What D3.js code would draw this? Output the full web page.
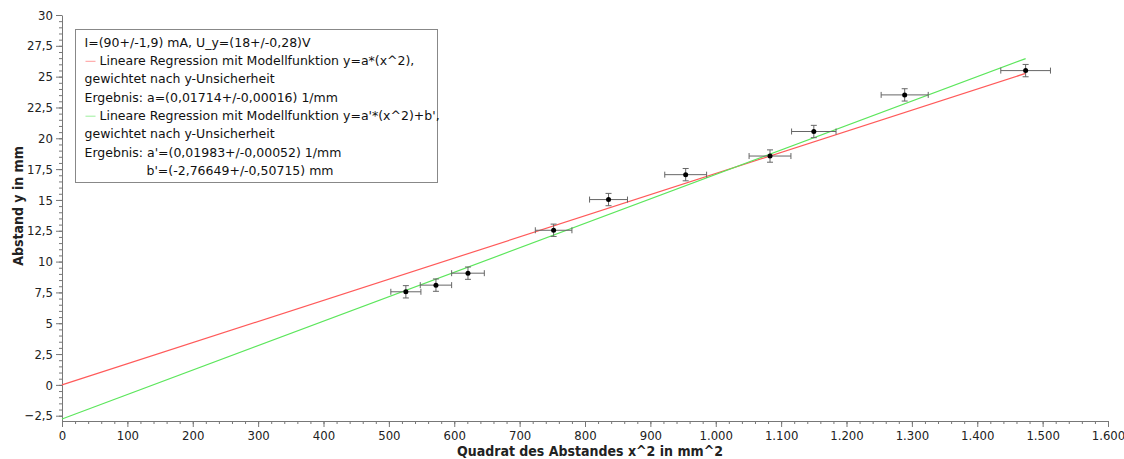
<!DOCTYPE html>
<html lang="de"><head><meta charset="UTF-8">
<title>Abstand y gegen x^2</title>
<script src="https://d3js.org/d3.v7.min.js"></script>
<style type="text/css">
  body { margin: 0; background: #fff; }
  text { font-family: "DejaVu Sans Condensed", "DejaVu Sans", sans-serif; fill: #222; }
  .legend text { font-family: "DejaVu Sans", sans-serif; fill: #111; }
</style>
</head>
<body>
<script type="text/javascript">

var xVals = [526, 572, 621, 752, 836, 954, 1083, 1150, 1289, 1474];
var yVals = [7.55, 8.09, 9.06, 12.54, 15.03, 17.05, 18.56, 20.55, 23.52, 25.49];
var xErr  = [23, 24, 25, 28, 29, 32, 32, 34, 36, 38];
var yErr  = [0.5, 0.5, 0.5, 0.5, 0.5, 0.5, 0.5, 0.5, 0.5, 0.5];

// Fitparameter
var fitA  = 0.01714;          // y = a*x^2
var fitA2 = 0.01983;          // y = a'*x^2 + b'
var fitB2 = -2.76649;

var xTicks = [0, 100, 200, 300, 400, 500, 600, 700, 800, 900, 1000, 1100, 1200, 1300, 1400, 1500, 1600];
var yTicks = [-2.5, 0, 2.5, 5, 7.5, 10, 12.5, 15, 17.5, 20, 22.5, 25, 27.5, 30];

var legendLines = [
  {text: "I=(90+/-1,9) mA, U_y=(18+/-0,28)V", dx: 0},
  {text: "Lineare Regression mit Modellfunktion y=a*(x^2),", dx: 15, swatch: "#ff5a5a"},
  {text: "gewichtet nach y-Unsicherheit", dx: 0},
  {text: "Ergebnis: a=(0,01714+/-0,00016) 1/mm", dx: 0},
  {text: "Lineare Regression mit Modellfunktion y=a'*(x^2)+b',", dx: 15, swatch: "#5ce65c"},
  {text: "gewichtet nach y-Unsicherheit", dx: 0},
  {text: "Ergebnis: a'=(0,01983+/-0,00052) 1/mm", dx: 0},
  {text: "b'=(-2,76649+/-0,50715) mm", dx: 62}
];

var w = 1124, h = 459;
var de = d3.formatLocale({decimal: ",", thousands: ".", grouping: [3], currency: ["", " €"]});

var x = d3.scaleLinear().domain([0, 1600]).range([62, 1108]);
var y = d3.scaleLinear().domain([-2.93, 30]).range([421, 15]);

var svg = d3.select("body").append("svg")
  .attr("width", w).attr("height", h);

// Achsen
var xMinor = d3.range(0, 1601, 20);
var yMinor = d3.range(-2.5, 30.01, 0.5);

svg.append("g")
  .attr("transform", "translate(0," + y.range()[0] + ")")
  .call(d3.axisBottom(x).tickValues(xMinor).tickSize(3).tickFormat(""))
  .call(function(g) { g.select(".domain").remove(); g.selectAll("line").attr("stroke", "#777"); });
var xAxis = svg.append("g")
  .attr("transform", "translate(0," + y.range()[0] + ")")
  .call(d3.axisBottom(x).tickValues(xTicks).tickSize(6).tickSizeOuter(0).tickPadding(4)
    .tickFormat(function(d) { return de.format(",")(d); }));

svg.append("g")
  .attr("transform", "translate(" + x.range()[0] + ",0)")
  .call(d3.axisLeft(y).tickValues(yMinor).tickSize(3).tickFormat(""))
  .call(function(g) { g.select(".domain").remove(); g.selectAll("line").attr("stroke", "#777"); });
var yAxis = svg.append("g")
  .attr("transform", "translate(" + x.range()[0] + ",0)")
  .call(d3.axisLeft(y).tickValues(yTicks).tickSize(6).tickSizeOuter(0).tickPadding(3)
    .tickFormat(function(d) { return de.format("")(d); }));

[xAxis, yAxis].forEach(function(g) {
  g.select(".domain").attr("stroke", "#777");
  g.selectAll(".tick line").attr("stroke", "#777");
  g.selectAll(".tick text").style("font-size", "13px").attr("fill", "#222");
});

// Achsentitel
svg.append("text")
  .attr("x", 590).attr("y", 456)
  .attr("text-anchor", "middle")
  .style("font-size", "14px").style("font-weight", "bold")
  .text("Quadrat des Abstandes x^2 in mm^2");
svg.append("text")
  .attr("transform", "translate(23,206) rotate(-90)")
  .attr("text-anchor", "middle")
  .style("font-size", "14px").style("font-weight", "bold")
  .text("Abstand y in mm");

// Regressionsgeraden
var xMax = d3.max(xVals);
svg.append("line")
  .attr("x1", x(0)).attr("y1", y(0))
  .attr("x2", x(xMax)).attr("y2", y(fitA * xMax))
  .attr("stroke", "#ff5a5a").attr("stroke-width", 1.2);
svg.append("line")
  .attr("x1", x(0)).attr("y1", y(fitB2))
  .attr("x2", x(xMax)).attr("y2", y(fitA2 * xMax + fitB2))
  .attr("stroke", "#5ce65c").attr("stroke-width", 1.2);

// Messpunkte mit Fehlerbalken
var pts = xVals.map(function(v, i) { return {x: v, y: yVals[i], ex: xErr[i], ey: yErr[i]}; });
var gp = svg.append("g").attr("stroke", "#666").attr("stroke-width", 1);
var p = gp.selectAll("g").data(pts).enter().append("g");
p.append("line")
  .attr("x1", function(d) { return x(d.x - d.ex); }).attr("x2", function(d) { return x(d.x + d.ex); })
  .attr("y1", function(d) { return y(d.y); }).attr("y2", function(d) { return y(d.y); });
p.append("line")
  .attr("x1", function(d) { return x(d.x); }).attr("x2", function(d) { return x(d.x); })
  .attr("y1", function(d) { return y(d.y - d.ey); }).attr("y2", function(d) { return y(d.y + d.ey); });
// caps
p.append("line")
  .attr("x1", function(d) { return x(d.x - d.ex); }).attr("x2", function(d) { return x(d.x - d.ex); })
  .attr("y1", function(d) { return y(d.y) - 3; }).attr("y2", function(d) { return y(d.y) + 3; });
p.append("line")
  .attr("x1", function(d) { return x(d.x + d.ex); }).attr("x2", function(d) { return x(d.x + d.ex); })
  .attr("y1", function(d) { return y(d.y) - 3; }).attr("y2", function(d) { return y(d.y) + 3; });
p.append("line")
  .attr("x1", function(d) { return x(d.x) - 3; }).attr("x2", function(d) { return x(d.x) + 3; })
  .attr("y1", function(d) { return y(d.y + d.ey); }).attr("y2", function(d) { return y(d.y + d.ey); });
p.append("line")
  .attr("x1", function(d) { return x(d.x) - 3; }).attr("x2", function(d) { return x(d.x) + 3; })
  .attr("y1", function(d) { return y(d.y - d.ey); }).attr("y2", function(d) { return y(d.y - d.ey); });
p.append("circle")
  .attr("cx", function(d) { return x(d.x); }).attr("cy", function(d) { return y(d.y); })
  .attr("r", 2.5).attr("fill", "#000").attr("stroke", "none");

// Legende
var lg = svg.append("g").attr("class", "legend").attr("transform", "translate(75.5,29.5)");
lg.append("rect").attr("width", 362).attr("height", 153)
  .attr("fill", "#fff").attr("stroke", "#888");
legendLines.forEach(function(l, i) {
  var yy = 13 + i * 18.3;
  if (l.swatch) {
    lg.append("line").attr("x1", 10).attr("x2", 20).attr("y1", yy + 0.5).attr("y2", yy + 0.5)
      .attr("stroke", l.swatch).attr("stroke-width", 1).attr("opacity", 0.6);
  }
  lg.append("text")
    .attr("x", 9 + l.dx).attr("y", yy)
    .attr("dy", "0.35em")
    .style("font-size", "12.5px")
    .text(l.text);
});

</script>
</body></html>
